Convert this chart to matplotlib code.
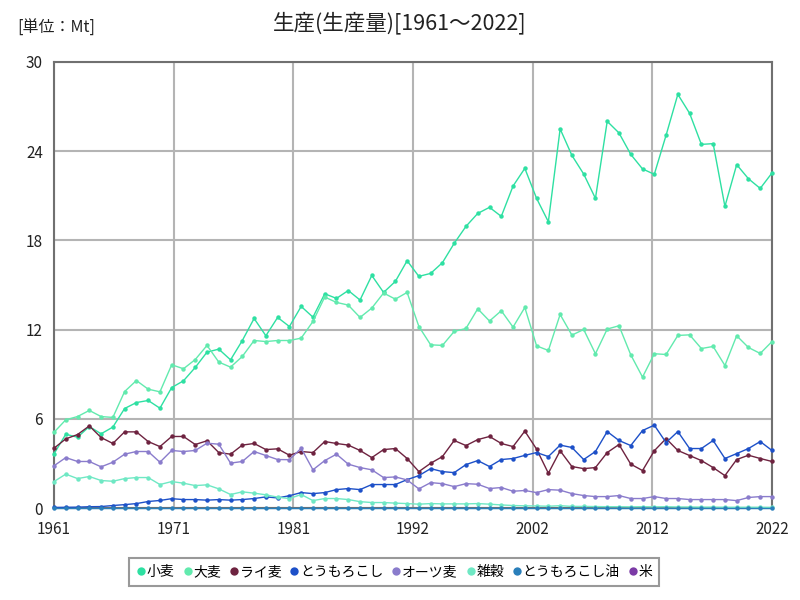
import matplotlib
matplotlib.use("Agg")
import matplotlib.pyplot as plt
from matplotlib.lines import Line2D

plt.rcParams['font.family'] = ['Noto Sans CJK JP', 'DejaVu Sans']

years = list(range(1961, 2023))

wheat = [3.65, 4.97, 4.77, 5.49, 5.00, 5.45, 6.70, 7.10, 7.24, 6.72,
         8.11, 8.56, 9.46, 10.49, 10.69, 9.97, 11.27, 12.75, 11.59, 12.82,
         12.21, 13.56, 12.84, 14.41, 14.10, 14.63, 13.99, 15.64, 14.50, 15.24,
         16.63, 15.58, 15.78, 16.50, 17.80, 18.94, 19.81, 20.22, 19.61, 21.65,
         22.84, 20.82, 19.25, 25.49, 23.71, 22.46, 20.82, 26.00, 25.22, 23.78,
         22.80, 22.44, 25.06, 27.81, 26.54, 24.45, 24.50, 20.28, 23.09, 22.14,
         21.49, 22.53]
barley = [5.10, 5.94, 6.16, 6.57, 6.16, 6.10, 7.84, 8.58, 8.00, 7.82,
          9.64, 9.37, 9.99, 10.94, 9.82, 9.48, 10.20, 11.27, 11.20, 11.27,
          11.27, 11.43, 12.55, 14.19, 13.83, 13.65, 12.82, 13.45, 14.46, 14.05,
          14.50, 12.21, 10.98, 10.94, 11.88, 12.08, 13.40, 12.58, 13.27, 12.17,
          13.49, 10.91, 10.60, 13.02, 11.63, 12.01, 10.38, 12.04, 12.26, 10.31,
          8.81, 10.38, 10.33, 11.61, 11.65, 10.73, 10.87, 9.59, 11.59, 10.80,
          10.40, 11.20]
rye = [4.03, 4.66, 4.95, 5.53, 4.75, 4.35, 5.13, 5.13, 4.48, 4.14,
       4.82, 4.82, 4.28, 4.53, 3.74, 3.63, 4.24, 4.35, 3.94, 3.99,
       3.56, 3.81, 3.74, 4.48, 4.35, 4.24, 3.88, 3.40, 3.94, 4.01,
       3.34, 2.46, 3.02, 3.47, 4.55, 4.21, 4.61, 4.82, 4.35, 4.14,
       5.18, 3.97, 2.35, 3.86, 2.80, 2.66, 2.73, 3.74, 4.28, 2.96,
       2.53, 3.86, 4.68, 3.88, 3.54, 3.20, 2.73, 2.19, 3.27, 3.56,
       3.34, 3.14]
maize = [0.05, 0.06, 0.07, 0.10, 0.11, 0.18, 0.24, 0.31, 0.45, 0.52,
         0.64, 0.58, 0.58, 0.54, 0.58, 0.54, 0.58, 0.65, 0.76, 0.69,
         0.84, 1.05, 0.98, 1.05, 1.25, 1.32, 1.25, 1.59, 1.59, 1.59,
         1.92, 2.19, 2.66, 2.46, 2.39, 2.93, 3.20, 2.80, 3.27, 3.34,
         3.55, 3.74, 3.47, 4.24, 4.08, 3.27, 3.81, 5.15, 4.55, 4.21,
         5.22, 5.58, 4.41, 5.15, 4.01, 4.01, 4.55, 3.34, 3.67, 4.01,
         4.48, 3.88]
oats = [2.85, 3.40, 3.14, 3.14, 2.78, 3.09, 3.63, 3.81, 3.81, 3.09,
        3.88, 3.81, 3.88, 4.37, 4.30, 3.03, 3.14, 3.81, 3.54, 3.27,
        3.26, 4.03, 2.58, 3.20, 3.63, 2.96, 2.73, 2.58, 2.06, 2.10,
        1.90, 1.30, 1.72, 1.65, 1.45, 1.65, 1.61, 1.32, 1.39, 1.14,
        1.19, 1.05, 1.25, 1.21, 0.98, 0.85, 0.78, 0.78, 0.85, 0.65,
        0.65, 0.78, 0.65, 0.65, 0.58, 0.58, 0.58, 0.58, 0.51, 0.72,
        0.78, 0.78]
mixed = [1.79, 2.29, 1.99, 2.13, 1.86, 1.81, 1.99, 2.06, 2.06, 1.59,
         1.79, 1.68, 1.52, 1.57, 1.30, 0.92, 1.10, 1.01, 0.90, 0.74,
         0.65, 0.92, 0.51, 0.65, 0.65, 0.58, 0.44, 0.38, 0.38, 0.34,
         0.31, 0.27, 0.31, 0.29, 0.29, 0.29, 0.31, 0.27, 0.22, 0.18,
         0.16, 0.15, 0.13, 0.17, 0.12, 0.12, 0.11, 0.10, 0.10, 0.09,
         0.10, 0.09, 0.10, 0.08, 0.08, 0.07, 0.07, 0.06, 0.06, 0.06,
         0.06, 0.05]
cornoil = [0.01, 0.01, 0.01, 0.01, 0.01, 0.01, 0.01, 0.01, 0.01, 0.01,
           0.01, 0.01, 0.01, 0.01, 0.01, 0.01, 0.01, 0.01, 0.01, 0.01,
           0.01, 0.01, 0.01, 0.01, 0.01, 0.01, 0.01, 0.01, 0.01, 0.01,
           0.01, 0.01, 0.01, 0.01, 0.01, 0.01, 0.01, 0.01, 0.01, 0.01,
           0.01, 0.01, 0.01, 0.01, 0.01, 0.01, 0.01, 0.01, 0.01, 0.01,
           0.01, 0.01, 0.01, 0.01, 0.01, 0.01, 0.01, 0.01, 0.01, 0.01,
           0.01, 0.01]
rice = [float('nan')] * len(years)  # no production shown in the chart

series_names = ['小麦', '大麦', 'ライ麦', 'とうもろこし', 'オーツ麦', '雑穀', 'とうもろこし油', '米']
series_values = [wheat, barley, rye, maize, oats, mixed, cornoil, rice]
colors = ['#2ee0a2', '#62eaae', '#6e2340', '#1d50c8', '#8a7ccc', '#6fe8c4', '#2a7fba', '#7b3aa6']

y_ticks = [0, 6, 12, 18, 24, 30]
title = '生産(生産量)[1961〜2022]'
unit_label = '[単位：Mt]'

fig = plt.figure(figsize=(8, 6), dpi=100)
ax = fig.add_axes([0.0675, 0.153, 0.8975, 0.744])

for name, vals, c in zip(series_names, series_values, colors):
    ax.plot(years, vals, color=c, lw=1.0, marker='o', markersize=3.2,
            markeredgewidth=0, label=name, clip_on=False, zorder=3)

ax.set_xlim(years[0], years[-1])
ax.set_ylim(y_ticks[0], y_ticks[-1])
span = years[-1] - years[0]
xt = [years[0] + span * k / 6 for k in range(7)]
ax.set_xticks(xt)
ax.set_xticklabels([str(round(t)) for t in xt])
ax.set_yticks(y_ticks)
ax.grid(True, color='#b4b4b4', lw=1.5, zorder=0)
ax.set_axisbelow(True)
ax.tick_params(axis='y', length=0, labelsize=11, pad=8, colors='#222222')
ax.tick_params(axis='x', length=0, labelsize=11, pad=9, colors='#222222')
for s in ax.spines.values():
    s.set_color('#707070')
    s.set_linewidth(1.5)

fig.text(0.5, 0.962, title, ha='center', va='center', fontsize=15.5, color='#222222')
fig.text(0.022, 0.953, unit_label, ha='left', va='center', fontsize=11.5, color='#222222')

handles = [Line2D([], [], ls='none', marker='o', markersize=6, markeredgewidth=0, color=c)
           for c in colors]
leg = fig.legend(handles, series_names, loc='center', bbox_to_anchor=(0.4925, 0.047),
                 ncol=8, frameon=True, fancybox=False, edgecolor='#808080',
                 handletextpad=0.0, columnspacing=0.55, handlelength=0.8,
                 fontsize=10, borderpad=0.5)
leg.get_frame().set_linewidth(1.5)

fig.savefig('out.png', dpi=100)
